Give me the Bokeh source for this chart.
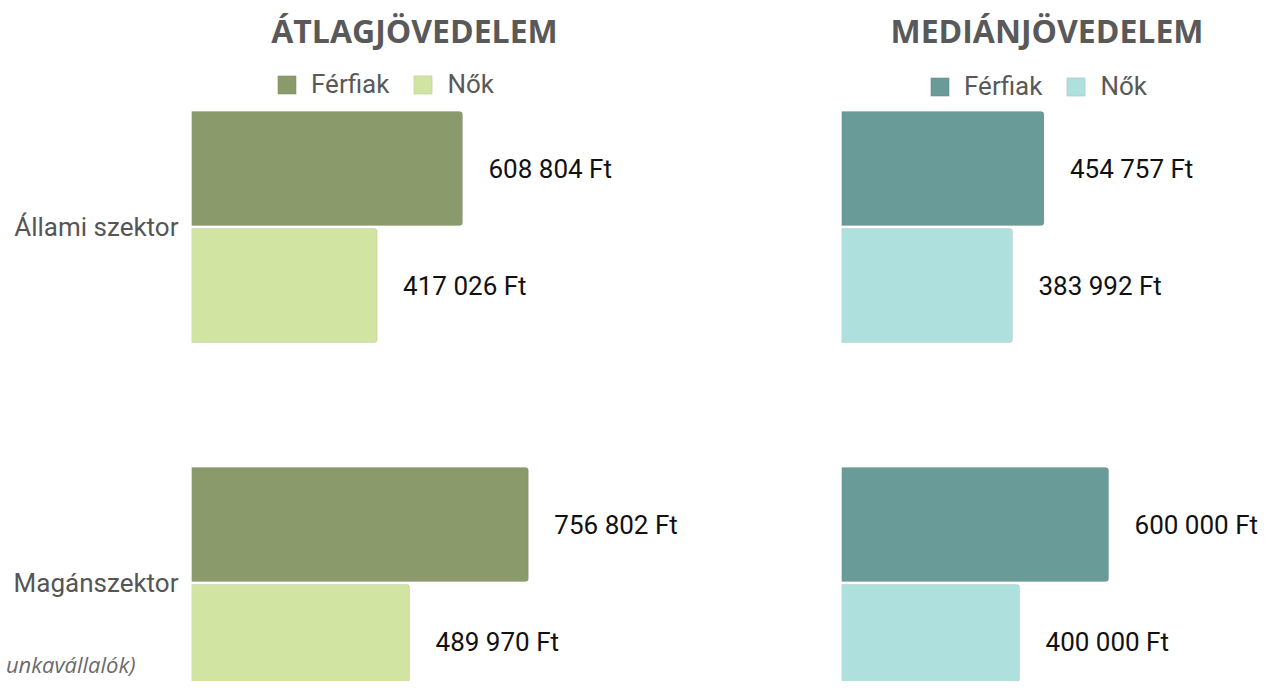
from bokeh.plotting import figure
from bokeh.models import ColumnDataSource, Range1d, Legend, LegendItem, Label, FixedTicker, LinearAxis
from bokeh.layouts import row
from bokeh.core.properties import value
from bokeh.embed import file_html
from bokeh.resources import INLINE

# ---------------- data ----------------
sectors = ["Állami szektor", "Magánszektor"]
avg_men = [608804, 756802]
avg_women = [417026, 489970]
med_men = [454757, 600000]
med_women = [383992, 400000]
series_names = ["Férfiak", "Nők"]
titles = ["ÁTLAGJÖVEDELEM", "MEDIÁNJÖVEDELEM"]
footnote = "unkavállalók)"

avg_colors = ["#8b9a6a", "#d1e4a2"]
med_colors = ["#699b98", "#aee0de"]

# ---------------- geometry ----------------
W, H = 1264, 681
W1 = 700
W2 = W - W1
FT_PER_PX = 2246.7
CAT_PX = 356.0              # distance between category centres (px)
C0 = 226.5                  # pixel row of first category centre
TOP_VAL = -C0 / CAT_PX
BOT_VAL = (H - C0) / CAT_PX
BAR_H = 114 / CAT_PX
OFF = 58.5 / CAT_PX

def ypx(py):
    return (py - C0) / CAT_PX

def fmt(v):
    return f"{v:,}".replace(",", " ") + " Ft"

def make_panel(width, left_border, men, women, colors, title, legend_x, legend_y, show_axis, title_px):
    frame_w = width - left_border
    p = figure(width=width, height=H, output_backend="svg", toolbar_location=None,
               x_range=Range1d(0, frame_w * FT_PER_PX),
               y_range=Range1d(BOT_VAL, TOP_VAL),
               min_border_left=left_border, min_border_right=0,
               min_border_top=0, min_border_bottom=0)
    p.outline_line_color = None
    p.grid.visible = False
    p.xaxis.visible = False
    p.background_fill_color = "white"
    p.border_fill_color = "white"

    idx = list(range(len(sectors)))
    renderers = []
    for k, (vals, col) in enumerate([(men, colors[0]), (women, colors[1])]):
        ys = [i + (-OFF if k == 0 else OFF) for i in idx]
        src = ColumnDataSource(dict(y=ys, v=vals, lab=[fmt(v) for v in vals]))
        r = p.hbar(y="y", left=0, right="v", height=BAR_H, source=src,
                   fill_color=col, line_color="#000000", line_alpha=0.08, line_width=1,
                   border_radius=(0, 3, 3, 0))
        renderers.append(r)
        p.text(x="v", y="y", text="lab", source=src, x_offset=26,
               text_baseline="middle", text_align="left",
               text_font=value("Roboto"), text_font_size="26px", text_color="#111111")

    if show_axis:
        ax = p.yaxis[0]
        ax.ticker = FixedTicker(ticks=idx)
        ax.major_label_overrides = {i: s for i, s in zip(idx, sectors)}
        ax.axis_line_color = None
        ax.major_tick_line_color = None
        ax.minor_tick_line_color = None
        ax.major_tick_out = 0
        ax.major_tick_in = 0
        ax.major_label_standoff = 13
        ax.major_label_text_font = "Roboto"
        ax.major_label_text_font_size = "26px"
        ax.major_label_text_color = "#555555"

        # footnote fragment, drawn as an outer axis label
        fy = ypx(669)
        fax = LinearAxis(ticker=FixedTicker(ticks=[fy]),
                         major_label_overrides={fy: footnote},
                         axis_line_color=None, major_tick_line_color=None,
                         minor_tick_line_color=None, major_tick_out=0, major_tick_in=0,
                         major_label_standoff=-125,
                         major_label_text_font="Open Sans",
                         major_label_text_font_style="italic",
                         major_label_text_font_size="22px",
                         major_label_text_color="#6b6b6b")
        p.add_layout(fax, "left")
    else:
        p.yaxis.visible = False

    legend = Legend(items=[LegendItem(label=series_names[0], renderers=[renderers[0]]),
                           LegendItem(label=series_names[1], renderers=[renderers[1]])],
                    orientation="horizontal", location=(legend_x, legend_y),
                    glyph_width=23, glyph_height=23, label_standoff=13, spacing=22,
                    padding=0, margin=0, border_line_alpha=0, background_fill_alpha=0,
                    label_text_font="Roboto", label_text_font_size="26px",
                    label_text_color="#595959", label_text_baseline="middle")
    p.add_layout(legend)

    p.add_layout(Label(x=title_px * FT_PER_PX, y=ypx(30), text=title,
                       text_align="center", text_baseline="middle",
                       text_font="Open Sans", text_font_style="bold",
                       text_font_size="32px", text_color="#595959"))
    return p

L1 = 191
L2 = 841
p1 = make_panel(W1, L1, avg_men, avg_women, avg_colors, titles[0], 84, 582, True, 414 - L1)
p2 = make_panel(W2, L2 - W1, med_men, med_women, med_colors, titles[1], 87, 580, False, 1046.5 - L2)

layout = row(p1, p2)
open("out.html", "w").write(file_html(layout, INLINE))
